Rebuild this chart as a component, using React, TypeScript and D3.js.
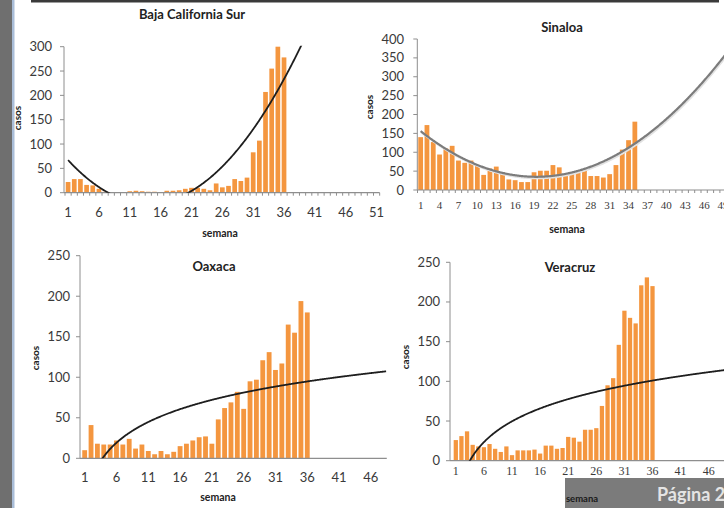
import React from 'react';
import * as d3 from 'd3';

// ---------- DATA ----------
const bcsCases = [22, 28, 28, 16, 15, 8, 2, 0, 0, 0, 3, 4, 3, 2, 2, 1, 4, 4, 5, 8, 10, 10, 8, 5, 19, 11, 14, 28, 24, 31, 83, 107, 207, 255, 300, 278];
const sinaloaCases = [140, 172, 127, 94, 110, 117, 78, 72, 78, 64, 40, 57, 62, 47, 28, 26, 21, 21, 47, 51, 51, 66, 60, 38, 43, 48, 54, 37, 37, 33, 42, 66, 107, 132, 181];
const oaxacaCases = [10, 41, 18, 17, 17, 22, 17, 24, 12, 17, 9, 5, 9, 5, 8, 15, 18, 22, 26, 27, 18, 48, 62, 69, 82, 61, 95, 97, 121, 131, 109, 117, 165, 155, 194, 180];
const veracruzCases = [26, 31, 37, 20, 18, 17, 21, 15, 11, 18, 7, 13, 13, 13, 14, 9, 19, 19, 15, 16, 30, 29, 24, 39, 39, 41, 69, 95, 104, 146, 189, 180, 173, 221, 231, 220];

// trend line coefficients
const bcsTrendPoly = [0.5286, -14.8, 81.27]; // a x^2 + b x + c
const sinaloaTrendPoly = [0.359, -13.893, 169.4];
const oaxacaTrendLog = [42.2, -56.4]; // a ln x + b
const veracruzTrendLog = [43.3, -54.2];

const bcsXLabels = [1, 6, 11, 16, 21, 26, 31, 36, 41, 46, 51];
const sinaloaXLabels = [1, 4, 7, 10, 13, 16, 19, 22, 25, 28, 31, 34, 37, 40, 43, 46, 49];
const oaxacaXLabels = [1, 6, 11, 16, 21, 26, 31, 36, 41, 46];
const veracruzXLabels = [1, 6, 11, 16, 21, 26, 31, 36, 41, 46];

const bcsYTicks = [0, 50, 100, 150, 200, 250, 300];
const sinaloaYTicks = [0, 50, 100, 150, 200, 250, 300, 350, 400];
const oaxacaYTicks = [0, 50, 100, 150, 200, 250];
const veracruzYTicks = [0, 50, 100, 150, 200, 250];

const titles = ['Baja California Sur', 'Sinaloa', 'Oaxaca', 'Veracruz'];

const SANS = 'Lato, "Open Sans", sans-serif';
const SERIF = '"Liberation Serif", "DejaVu Serif", serif';
const BAR = '#F4963F';
const AXIS = '#8e8e8e';
const TXT = '#3a3a3a';

type Cfg = {
  id: string;
  title: string;
  values: number[];
  n: number;
  axisX: number;
  x0: number;
  band: number;
  yTop: number;
  yBottom: number;
  yTicks: number[];
  xLabels: number[];
  xLabelY: number;
  xLabelFont: string;
  xLabelSize: number;
  xTicks: boolean;
  trend: (w: number) => number;
  trendColor: string;
  trendWidth: number;
  trendShadow?: boolean;
  titlePos: [number, number];
  casosPos: [number, number];
  semanaPos: [number, number];
  yLabelX: number;
};

const poly = (c: number[]) => (w: number) => c[0] * w * w + c[1] * w + c[2];
const logf = (c: number[]) => (w: number) => c[0] * Math.log(w) + c[1];

const panels: Cfg[] = [
  {
    id: 'bcs', title: titles[0], values: bcsCases, n: 51, axisX: 64, x0: 65, band: 6.17,
    yTop: 46.7, yBottom: 192.7, yTicks: bcsYTicks, xLabels: bcsXLabels, xLabelY: 217,
    xLabelFont: SANS, xLabelSize: 13, xTicks: true, trend: poly(bcsTrendPoly),
    trendColor: '#1e1e1e', trendWidth: 1.8, titlePos: [192, 19], casosPos: [21, 118],
    semanaPos: [220, 237], yLabelX: 52,
  },
  {
    id: 'sin', title: titles[1], values: sinaloaCases, n: 52, axisX: 417.3, x0: 417.5, band: 6.3,
    yTop: 39, yBottom: 190, yTicks: sinaloaYTicks, xLabels: sinaloaXLabels, xLabelY: 209,
    xLabelFont: SERIF, xLabelSize: 11, xTicks: true, trend: poly(sinaloaTrendPoly),
    trendColor: '#7c7c7c', trendWidth: 2.2, trendShadow: true, titlePos: [562, 32],
    casosPos: [373, 107], semanaPos: [567, 233], yLabelX: 404,
  },
  {
    id: 'oax', title: titles[2], values: oaxacaCases, n: 48, axisX: 80, x0: 81.5, band: 6.36,
    yTop: 255.7, yBottom: 458.3, yTicks: oaxacaYTicks, xLabels: oaxacaXLabels, xLabelY: 481.5,
    xLabelFont: SANS, xLabelSize: 13, xTicks: false, trend: logf(oaxacaTrendLog),
    trendColor: '#1e1e1e', trendWidth: 1.8, titlePos: [214, 271], casosPos: [39, 358],
    semanaPos: [218, 501], yLabelX: 70,
  },
  {
    id: 'ver', title: titles[3], values: veracruzCases, n: 52, axisX: 450, x0: 453, band: 5.62,
    yTop: 262.3, yBottom: 460.7, yTicks: veracruzYTicks, xLabels: veracruzXLabels, xLabelY: 475,
    xLabelFont: SERIF, xLabelSize: 12, xTicks: false, trend: logf(veracruzTrendLog),
    trendColor: '#1e1e1e', trendWidth: 1.8, titlePos: [570, 272], casosPos: [409, 357],
    semanaPos: [582, 502], yLabelX: 440,
  },
];

function Panel({ c }: { c: Cfg }) {
  const weeks = d3.range(1, c.n + 1).map(String);
  const xEnd = c.x0 + c.n * c.band;
  const x = d3.scaleBand().domain(weeks).range([c.x0, xEnd]).paddingInner(0.24).paddingOuter(0.12);
  const yMax = c.yTicks[c.yTicks.length - 1];
  const y = d3.scaleLinear().domain([0, yMax]).range([c.yBottom, c.yTop]);
  const xc = d3.scaleLinear().domain([0.5, c.n + 0.5]).range([c.x0, xEnd]);
  const samples = d3.range(1, c.n + 0.5, 0.1);
  const line = d3.line<number>().x((w) => xc(w)).y((w) => y(c.trend(w))).curve(d3.curveLinear);
  const clipId = `clip-${c.id}`;
  const catEdges = d3.range(0, c.n + 1).map((i) => c.x0 + i * c.band);
  return (
    <g>
      <defs>
        <clipPath id={clipId}>
          <rect x={c.axisX} y={c.yTop - 1} width={xEnd - c.axisX} height={c.yBottom - c.yTop + 1} />
        </clipPath>
      </defs>
      {c.values.map((v, i) => (
        <rect key={i} x={x(String(i + 1))} y={y(v)} width={x.bandwidth()} height={c.yBottom - y(v)} fill={BAR} />
      ))}
      <line x1={c.axisX} x2={c.axisX} y1={c.yTop} y2={c.yBottom} stroke={AXIS} strokeWidth={1} />
      <line x1={c.axisX} x2={xEnd} y1={c.yBottom} y2={c.yBottom} stroke={AXIS} strokeWidth={1.2} />
      {c.yTicks.map((t) => (
        <g key={t}>
          <line x1={c.axisX - 4} x2={c.axisX} y1={y(t)} y2={y(t)} stroke={AXIS} />
          <text x={c.yLabelX} y={y(t) + 4.5} textAnchor="end" fontFamily={SANS} fontSize={13} fill={TXT}>{t}</text>
        </g>
      ))}
      {c.xTicks && catEdges.map((e, i) => (
        <line key={i} x1={e} x2={e} y1={c.yBottom} y2={c.yBottom + 3} stroke={AXIS} />
      ))}
      {c.xLabels.map((l) => (
        <text key={l} x={xc(l)} y={c.xLabelY} textAnchor="middle" fontFamily={c.xLabelFont} fontSize={c.xLabelSize} fill={TXT}>{l}</text>
      ))}
      <g clipPath={`url(#${clipId})`}>
        {c.trendShadow && (
          <path d={line(samples) || ''} fill="none" stroke="#e2e2e2" strokeWidth={2} transform="translate(1,1.5)" />
        )}
        <path d={line(samples) || ''} fill="none" stroke={c.trendColor} strokeWidth={c.trendWidth} />
      </g>
      <text x={c.titlePos[0]} y={c.titlePos[1]} textAnchor="middle" fontFamily={SANS} fontWeight={700} fontSize={13} fill="#222">{c.title}</text>
      <text transform={`translate(${c.casosPos[0]},${c.casosPos[1]}) rotate(-90)`} textAnchor="middle" fontFamily={SANS} fontWeight={700} fontSize={10} fill="#222">casos</text>
      {c.id !== 'ver' && (
        <text x={c.semanaPos[0]} y={c.semanaPos[1]} textAnchor="middle" fontFamily={SANS} fontWeight={700} fontSize={10.5} fill="#222">semana</text>
      )}
    </g>
  );
}

export default function App() {
  const ver = panels[3];
  return (
    <svg width={724} height={508} style={{ position: 'absolute', left: 0, top: 0, background: '#fff' }}>
      <rect x={0} y={0} width={724} height={508} fill="#fff" />
      <rect x={0} y={0} width={12} height={508} fill="#6f6f6f" />
      <rect x={12} y={0} width={2.5} height={508} fill="#a9bdd8" />
      <rect x={31} y={0} width={688} height={2.5} fill="#3a3a3a" />
      {panels.map((p) => <Panel key={p.id} c={p} />)}
      <rect x={565} y={478} width={159} height={30} fill="#7b7b7b" />
      <text x={657} y={501} fontFamily={SANS} fontWeight={700} fontSize={18} fill="#e4e4e4">Página 2</text>
      <text x={ver.semanaPos[0]} y={ver.semanaPos[1]} textAnchor="middle" fontFamily={SANS} fontWeight={700} fontSize={9.5} fill="#1a1a1a">semana</text>
    </svg>
  );
}
